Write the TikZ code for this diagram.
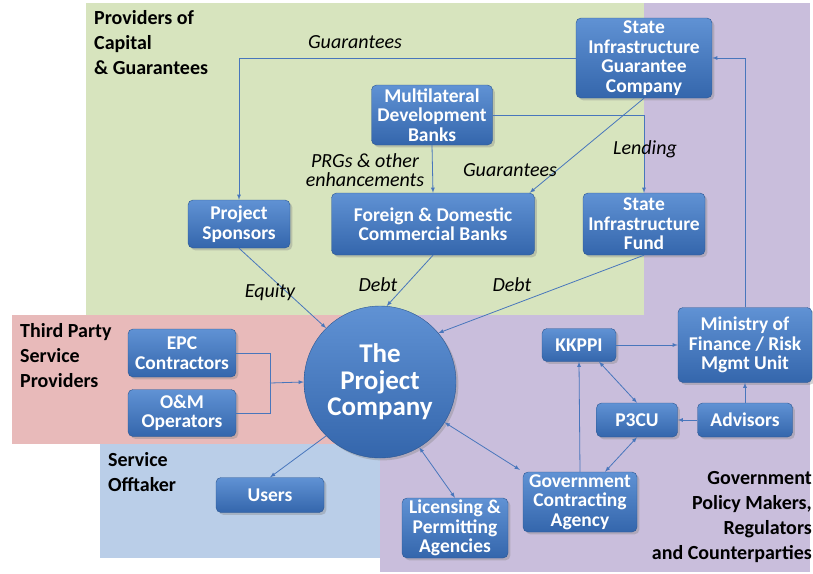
\documentclass[tikz,border=0pt]{standalone}
\usepackage{fontspec}
\setmainfont{Carlito}
\usetikzlibrary{shadows}
\definecolor{zonegreen}{RGB}{215,228,190}
\definecolor{zonepurple}{RGB}{201,190,220}
\definecolor{zonered}{RGB}{232,186,186}
\definecolor{zoneblue}{RGB}{186,206,232}
\definecolor{boxtop}{RGB}{96,146,212}
\definecolor{boxbot}{RGB}{52,102,172}
\definecolor{linkblue}{RGB}{72,118,188}
\begin{document}
\begin{tikzpicture}[
                    x = 1pt, y = -1pt,
                    > = latex,
            box/.style = {rectangle,
                         rounded corners=5pt,
                         draw=boxbot!85!black,
                         top color=boxtop,
                         bottom color=boxbot,
                         drop shadow={opacity=0.35},
                         text=white,
                         align=center,
                         inner sep=1pt,
                         font=\bfseries\fontsize{19.5}{19.5}\selectfont},
            hub/.style = {circle, draw=boxbot!85!black,
                         top color=boxtop, bottom color=boxbot,
                         drop shadow={opacity=0.35},
                         text=white, align=center,
                         minimum size=152pt, inner sep=0pt,
                         font=\bfseries\fontsize{27}{26.5}\selectfont},
           link/.style = {draw=linkblue, line width=0.8pt},
           flow/.style = {font=\itshape\fontsize{20}{19}\selectfont, align=center, inner sep=1pt},
        zonetag/.style = {font=\bfseries\fontsize{20}{25}\selectfont, inner sep=0pt},
                    ]
    \useasboundingbox (0,0) rectangle (813,573);
    % coloured zones
    \fill[zonepurple] (380,3) rectangle (810,572);
    \fill[zonegreen]  (86,3)  rectangle (644,315);
    \fill[zonered]    (12,315) rectangle (380,444);
    \fill[zoneblue]   (100,444) rectangle (380,558);

    \node[zonetag, anchor=north west, align=left] (capital) at (94,10)
        {Providers of\\Capital\\\& Guarantees};
    \node[zonetag, anchor=north west, align=left] (thirdparty) at (20,323)
        {Third Party\\Service\\Providers};
    \node[zonetag, anchor=north west, align=left] (offtaker) at (108,452)
        {Service\\Offtaker};
    \node[zonetag, anchor=north east, align=right] (government) at (812,471)
        {Government\\Policy Makers,\\Regulators\\and Counterparties};

    % boxes
    \node[box, minimum width=136pt, minimum height=80pt] (sigc) at (644,58)
        {State\\Infrastructure\\Guarantee\\Company};
    \node[box, minimum width=121pt, minimum height=60pt] (mdb) at (432,115)
        {Multilateral\\Development\\Banks};
    \node[box, minimum width=102pt, minimum height=48pt] (spons) at (239,224)
        {Project\\Sponsors};
    \node[box, minimum width=203pt, minimum height=62pt] (fdcb) at (433,224)
        {Foreign \& Domestic\\Commercial Banks};
    \node[box, minimum width=122pt, minimum height=62pt] (sif) at (644,224)
        {State\\Infrastructure\\Fund};
    \node[hub] (pc) at (380,382) {The\\Project\\Company};
    \node[box, minimum width=108pt, minimum height=48pt] (epc) at (182,353)
        {EPC\\Contractors};
    \node[box, minimum width=108pt, minimum height=47pt] (oam) at (182,413)
        {O\&M\\Operators};
    \node[box, minimum width=108pt, minimum height=35pt] (users) at (270,495)
        {Users};
    \node[box, minimum width=106pt, minimum height=60pt] (lic) at (455,528)
        {Licensing \&\\Permitting\\Agencies};
    \node[box, minimum width=114pt, minimum height=60pt] (gca) at (580,502)
        {Government\\Contracting\\Agency};
    \node[box, minimum width=74pt, minimum height=33pt] (kkppi) at (579,345)
        {KKPPI};
    \node[box, minimum width=81pt, minimum height=34pt] (p3cu) at (637,420)
        {P3CU};
    \node[box, minimum width=95pt, minimum height=34pt] (adv) at (745,420)
        {Advisors};
    \node[box, minimum width=134pt, minimum height=75pt] (mof) at (745,345)
        {Ministry of\\Finance / Risk\\Mgmt Unit};

    % connectors
    \draw[link,->] (sigc.west) -| (spons.north);
    \draw[link,->] (sigc.south) -- ([xshift=-5pt]fdcb.north east);
    \draw[link,->] (mdb.east) -| (sif.north);
    \draw[link,->] (mdb.south) -- (fdcb.north);
    \draw[link,->] (spons.south) -- (pc.135);
    \draw[link,->] (fdcb.south) -- (pc.85);
    \draw[link,->] (sif.south) -- (pc.40);
    \coordinate (join) at (270,383);
    \draw[link] (epc.east) -| (join);
    \draw[link] (oam.east) -| (join);
    \draw[link,->] (join) -- (pc.west);
    \draw[link,->] (pc.-135) -- (users.north);
    \draw[link,<->] (pc.-59) -- (lic.north);
    \draw[link,<->] (pc.-32) -- ([xshift=-3pt,yshift=2pt]gca.north west);
    \draw[link,->] (gca.north) -- (kkppi.south);
    \draw[link,<->] ([xshift=25pt]gca.north) -- (p3cu.south);
    \draw[link,<->] ([xshift=20pt]kkppi.south) -- (p3cu.north);
    \draw[link,->] (kkppi.east) -- (mof.west);
    \draw[link,->] (adv.west) -- (p3cu.east);
    \draw[link,->] (adv.north) -- (mof.south);
    \draw[link,->] (mof.north) |- (sigc.east);

    % flow labels
    \node[flow] (lblguar) at (355,42) {Guarantees};
    \node[flow] (lblprg) at (365,170) {PRGs \& other\\enhancements};
    \node[flow] (lblguar2) at (510,170) {Guarantees};
    \node[flow] (lbllend) at (645,149) {Lending};
    \node[flow] (lbleq) at (270,292) {Equity};
    \node[flow] (lbldebt) at (378,285) {Debt};
    \node[flow] (lbldebt2) at (512,285) {Debt};
\end{tikzpicture}
\end{document}
